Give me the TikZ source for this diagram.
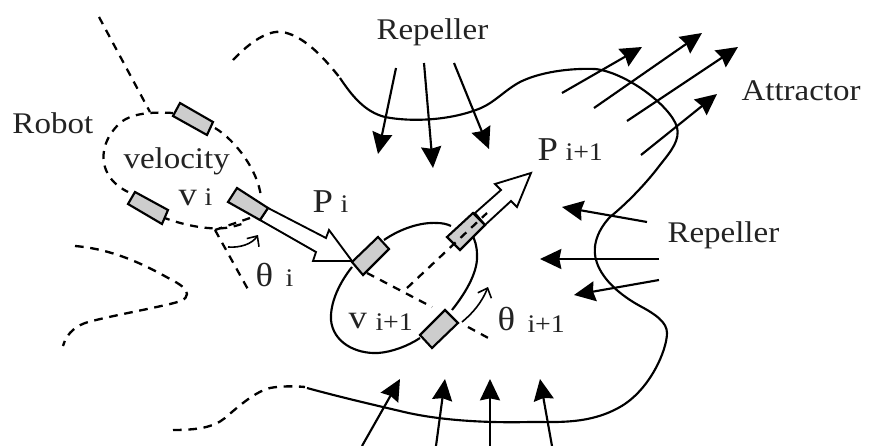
\documentclass[tikz,border=0pt]{standalone}
\usepackage{fontspec}
\setmainfont[FakeStretch=1.1]{Liberation Serif}
\usetikzlibrary{arrows.meta}

\tikzset{every picture/.style={line width=0.75pt}}
\tikzset{
  lbl/.style={anchor=base west,inner sep=0pt,font=\fontsize{22.5}{26}\selectfont,text={rgb,255:red,35;green,35;blue,35}},
  sym/.style={anchor=base west,inner sep=0pt,font=\fontsize{25}{28}\selectfont,text={rgb,255:red,35;green,35;blue,35}},
  sub/.style={anchor=base west,inner sep=0pt,font=\fontsize{19}{22}\selectfont,text={rgb,255:red,35;green,35;blue,35}},
  bound/.style={line width=1.6pt},
  bounddash/.style={line width=1.75pt,dash pattern=on 6.5pt off 5pt},
  ray/.style={line width=1.7pt,dash pattern=on 6pt off 5pt},
  force/.style={line width=1.6pt,-{Stealth[length=16pt,width=15pt,inset=1.5pt]}},
  turn/.style={line width=1.2pt,-{Straight Barb[length=6pt,width=11pt]}},
  wheel/.style={line width=1.6pt,fill={rgb,255:red,205;green,205;blue,205}},
  wide/.style={line width=1.4pt,line join=miter,fill=white}
}

\begin{document}
\begin{tikzpicture}[x=0.75pt,y=0.75pt,yscale=-1,xscale=1]
\useasboundingbox (0,0) rectangle (869,446);

%Shape: Boundary dashed part
\draw [bounddash] (233,60) .. controls (250,42) and (268,30) .. (282,32) .. controls (302,35) and (322,55) .. (340,78);
\draw [bounddash] (75,246) .. controls (110,249) and (140,262) .. (170,279) .. controls (180,284) and (187,289) .. (187,294) .. controls (187,300) and (178,302) .. (170,304) .. controls (140,311) and (105,317) .. (85,323) .. controls (72,328) and (66,336) .. (63,346);
\draw [bounddash] (173,430) .. controls (195,430) and (213,428) .. (225,418) .. controls (240,405) and (255,392) .. (270,388) .. controls (280,386) and (295,386) .. (305,387);
%Shape: Boundary solid part
\draw [bound] (340,78) .. controls (352,96) and (365,112) .. (385,117) .. controls (410,122) and (450,121) .. (481,108) .. controls (495,102) and (505,90) .. (520,82) .. controls (540,72) and (570,68) .. (595,69) .. controls (625,72) and (670,105) .. (677,127) .. controls (680,140) and (672,150) .. (660,165) .. controls (645,185) and (625,205) .. (610,217) .. controls (595,233) and (592,250) .. (597,263) .. controls (603,280) and (620,295) .. (640,306) .. controls (655,314) and (667,322) .. (667,333) .. controls (667,350) and (650,390) .. (620,407) .. controls (590,424) and (560,422) .. (530,422) .. controls (490,423) and (440,421) .. (400,411) .. controls (370,404) and (340,397) .. (307,388);

%Shape: Old pose dashed
\draw [ray] (173,113) .. controls (155,112) and (130,112) .. (118,125) .. controls (105,138) and (100,155) .. (106,170) .. controls (110,180) and (118,187) .. (128,192);
\draw [ray] (162,217) .. controls (180,224) and (205,230) .. (225,228) .. controls (232,227) and (240,225) .. (247,222);
\draw [ray] (215,128) .. controls (235,140) and (258,170) .. (261,197);
\draw [ray] (99,17) -- (150,112);
\draw [ray] (215,230) -- (250,293);

%Shape: New pose solid
\draw [bound] (352,267) .. controls (340,282) and (330,302) .. (331,320) .. controls (333,342) and (355,354) .. (378,353) .. controls (392,352) and (408,346) .. (420,338);
\draw [bound] (452,310) .. controls (468,290) and (478,270) .. (477,255) .. controls (477,246) and (475,240) .. (471,232);
\draw [bound] (384,240) .. controls (400,229) and (420,222) .. (437,223) .. controls (442,223) and (447,224) .. (451,226);

%Shape: Wide arrows
\draw [wide] (268,208) -- (326,238) -- (329,230) -- (352,261) -- (313,261) -- (316,252) -- (260,220) -- cycle;
\draw [line width=2pt] (313,261) -- (352,261);
\draw [wide] (475,213) -- (501,190) -- (495,184) -- (531,173) -- (517,207) -- (511,201) -- (485,225) -- cycle;

%Shape: Wheels
\draw [wheel] (180,103) -- (213,122) -- (207,135) -- (173,116) -- cycle;
\draw [wheel] (135,192) -- (168,210) -- (162,224) -- (128,204) -- cycle;
\draw [wheel] (237,188) -- (268,208) -- (260,220) -- (228,202) -- cycle;
\draw [wheel] (378,237) -- (389,249) -- (363,275) -- (352,262) -- cycle;
\draw [wheel] (473,213) -- (485,225) -- (460,250) -- (447,237) -- cycle;
\draw [wheel] (445,310) -- (458,323) -- (432,348) -- (420,335) -- cycle;

%Shape: Axle rays
\draw [ray] (367,273) -- (432,307);
\draw [ray] (468,327) -- (492,340);
\draw [ray] (407,288) -- (487,213);
\draw [ray] (250,218) -- (215,230);

%Shape: Turn arrows
\draw [turn] (228,247) .. controls (240,248) and (252,244) .. (258,235);
\draw [turn] (462,322) .. controls (473,313) and (482,302) .. (488,287);

%Shape: Forces
\draw [force] (396,68) -- (378,154);
\draw [force] (424,63) -- (433,168);
\draw [force] (454,63) -- (489,149);
\draw [force] (562,93) -- (642,47);
\draw [force] (594,108) -- (702,33);
\draw [force] (627,121) -- (738,47);
\draw [force] (641,155) -- (717,94);
\draw [force] (647,222) -- (562,207);
\draw [force] (659,259) -- (540,259);
\draw [force] (659,280) -- (574,295);
\draw [force] (362,446) -- (400,379);
\draw [force] (436,446) -- (445,379);
\draw [force] (490,446) -- (490,379);
\draw [force] (552,446) -- (540,379);

% Text Node
\draw (12,133) node (robotLbl) [lbl] {Robot};
% Text Node
\draw (123,168) node (velocityLbl) [lbl] {velocity};
% Text Node
\draw (376,40) node (repellerTop) [lbl] {Repeller};
% Text Node
\draw (741,100) node (attractorLbl) [lbl] {Attractor};
% Text Node
\draw (667,242) node (repellerRight) [lbl] {Repeller};
% Text Node
\draw (178,205) node (viLbl) [sym] {v};
\draw (204,205) node (viSub) [sub] {i};
% Text Node
\draw (312,212) node (piLbl) [sym] {P};
\draw (340,212) node (piSub) [sub] {i};
% Text Node
\draw (537,160) node (pnextLbl) [sym] {P};
\draw (565,160) node (pnextSub) [sub] {i+1};
% Text Node
\draw (348,328) node (vnextLbl) [sym] {v};
\draw (375,330) node (vnextSub) [sub] {i+1};
% Text Node
\draw (255,286) node (thetaLbl) [sym] {θ};
\draw (285,286) node (thetaSub) [sub] {i};
% Text Node
\draw (497,330) node (thetanextLbl) [sym] {θ};
\draw (527,332) node (thetanextSub) [sub] {i+1};

\end{tikzpicture}
\end{document}
